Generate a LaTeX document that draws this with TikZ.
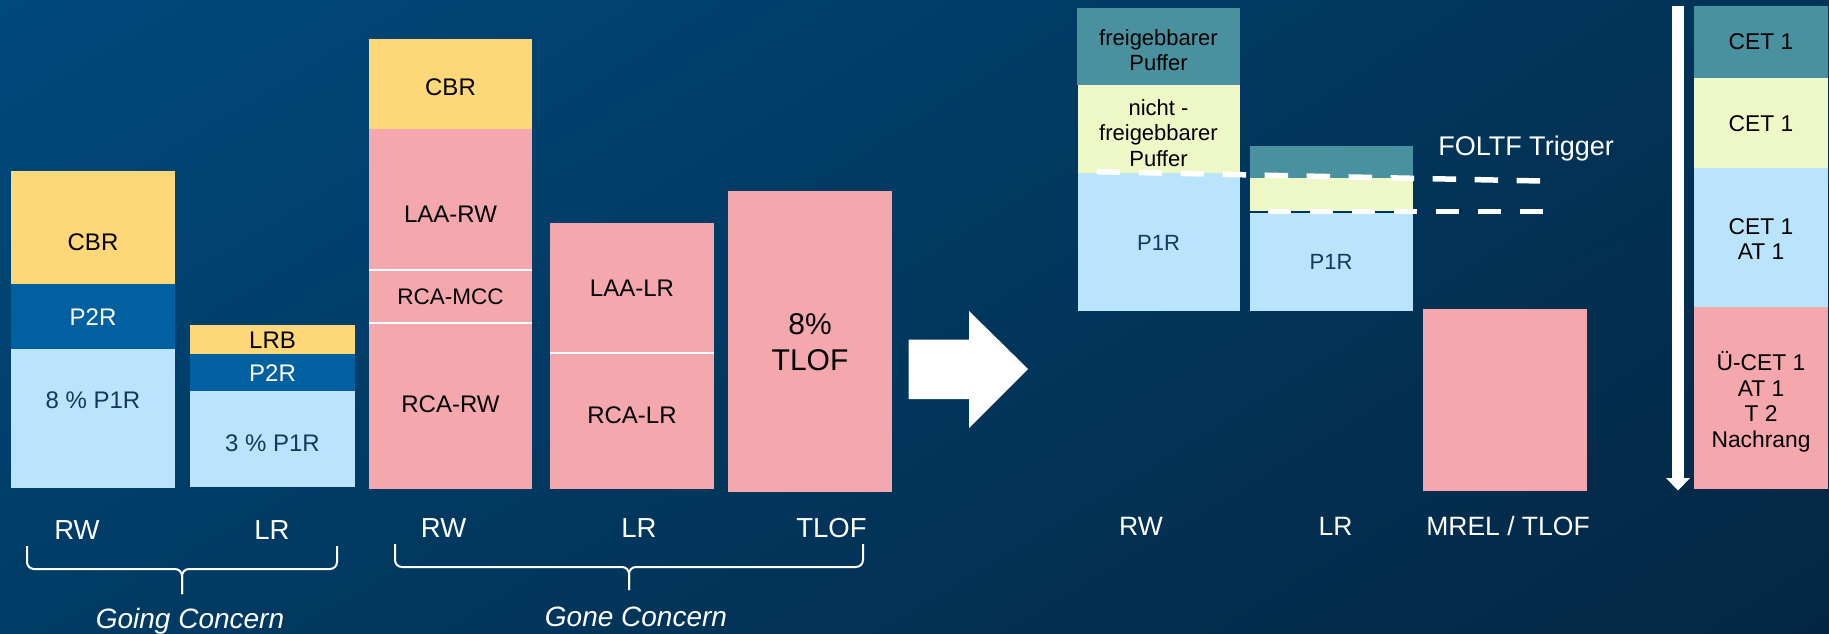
\documentclass[tikz,border=0pt]{standalone}
\usepackage{fontspec}
\setmainfont{Liberation Sans}
\usetikzlibrary{shadings}
\definecolor{bgA}{RGB}{0,74,124}
\definecolor{bgB}{RGB}{2,50,86}
\definecolor{bgC}{RGB}{1,60,102}
\definecolor{bgD}{RGB}{4,38,66}
\definecolor{cbr}{RGB}{253,215,120}
\definecolor{ptwo}{RGB}{0,96,160}
\definecolor{pone}{RGB}{185,228,252}
\definecolor{gpink}{RGB}{244,167,173}
\definecolor{tealb}{RGB}{74,145,160}
\definecolor{lyel}{RGB}{238,248,198}
\definecolor{ponetext}{RGB}{23,55,94}
\newcommand\szBox{\fontsize{24}{28}\selectfont}
\newcommand\szBig{\fontsize{30}{36.5}\selectfont}
\newcommand\szLab{\fontsize{27.5}{32}\selectfont}
\newcommand\szLabR{\fontsize{26.5}{30}\selectfont}
\newcommand\szSm{\fontsize{22}{25.5}\selectfont}
\newcommand\szCol{\fontsize{22.8}{25.5}\selectfont}
\tikzset{
  txt/.style={inner sep=0pt, outer sep=0pt, align=center, text depth=0pt},
  boxt/.style={txt, font=\szBox, text=black},
  smt/.style={txt, font=\szSm, text=black},
  colt/.style={txt, font=\szCol, text=black},
  lab/.style={txt, font=\szLab, text=white},
  labr/.style={txt, font=\szLabR, text=white},
  brace/.style={draw=white, line width=2pt, rounded corners=7pt},
  sep/.style={draw=white, line width=2pt},
  trig/.style={draw=white, line width=5.5pt, dash pattern=on 23.5pt off 18.5pt}
}
\begin{document}
\begin{tikzpicture}[x=1pt,y=-1pt]
\useasboundingbox (0,0) rectangle (1829,634);
\shade[upper left=bgA, upper right=bgB, lower left=bgC, lower right=bgD] (0,0) rectangle (1829,634);
% ---- Going concern RW
\fill[cbr] (10.9,171) rectangle (175,284);
\fill[ptwo] (10.9,284) rectangle (175,348.6);
\fill[pone] (10.9,348.6) rectangle (175,487.7);
\node[boxt] (cbrA) at (93,242) {CBR};
\node[boxt, text=white] (p2rA) at (93,317) {P2R};
\node[boxt, text=ponetext] (p1rA) at (93,400) {8 \% P1R};
% ---- Going concern LR
\fill[cbr] (190,325) rectangle (355,354);
\fill[ptwo] (190,354) rectangle (355,391.4);
\fill[pone] (190,391.4) rectangle (355,486.5);
\node[boxt] (lrbB) at (272.5,340) {LRB};
\node[boxt, text=white] (p2rB) at (272.5,373) {P2R};
\node[boxt, text=ponetext] (p1rB) at (272.5,443) {3 \% P1R};
% ---- Gone concern RW
\fill[cbr] (369,38.8) rectangle (532,129.4);
\fill[gpink] (369,129.4) rectangle (532,488.5);
\draw[sep] (369,269.7) -- (532,269.7);
\draw[sep] (369,323) -- (532,323);
\node[boxt] (cbrC) at (450.5,87) {CBR};
\node[boxt] (laaC) at (450.5,214) {LAA-RW};
\node[boxt, font=\fontsize{22.5}{26}\selectfont] (mccC) at (450.5,297) {RCA-MCC};
\node[boxt] (rcaC) at (450.5,404) {RCA-RW};
% ---- Gone concern LR
\fill[gpink] (550,223) rectangle (714,489);
\draw[sep] (550,352.6) -- (714,352.6);
\node[boxt] (laaD) at (632,288) {LAA-LR};
\node[boxt] (rcaD) at (632,415) {RCA-LR};
% ---- TLOF
\fill[gpink] (728,191) rectangle (892,491.5);
\node[txt, font=\szBig, text=black] (tlofE) at (810,342) {8\%\\TLOF};
% ---- big arrow
\fill[white] (908.6,339.7) -- (969,339.7) -- (969,311) -- (1028,369) -- (969,428) -- (969,399) -- (908.6,399) -- cycle;
% ---- right RW
\fill[tealb] (1077,8) rectangle (1240,85);
\fill[lyel] (1078,85) rectangle (1240,173);
\fill[pone] (1078,173) rectangle (1240,310.5);
\node[smt] (freiF) at (1158.5,50) {freigebbarer\\Puffer};
\node[smt] (nichtF) at (1158.5,133) {nicht -\\freigebbarer\\Puffer};
\node[smt, text=ponetext] (p1rF) at (1158.5,243) {P1R};
% ---- right LR
\fill[tealb] (1249.5,146.4) rectangle (1413,178);
\fill[lyel] (1249.5,178) rectangle (1413,210.8);
\fill[pone] (1249.5,212.5) rectangle (1413,310.5);
\node[smt, text=ponetext] (p1rG) at (1331,262) {P1R};
% ---- trigger lines
\coordinate (t1a) at (1096.7,171.7);
\coordinate (t1b) at (1541,181);
\coordinate (t2a) at (1267.7,211.7);
\coordinate (t2b) at (1543.2,211.7);
\draw[trig] (t1a) -- (t1b);
\draw[trig] (t2a) -- (t2b);
\node[txt, font=\fontsize{27}{30}\selectfont, text=white] (foltf) at (1526,146) {FOLTF Trigger};
% ---- MREL box
\fill[gpink] (1423,309.3) rectangle (1587,490.5);
% ---- down arrow
\coordinate (dtop) at (1678,5.7);
\coordinate (dmid) at (1678,479);
\coordinate (dtip) at (1678,490.5);
\draw[white, line width=12pt] (dtop) -- (dmid);
\fill[white] (1666,478) -- (1690,478) -- (dtip) -- cycle;
% ---- right column
\fill[tealb] (1694.4,5.7) rectangle (1828,77.6);
\fill[lyel] (1694.4,77.6) rectangle (1828,167.8);
\fill[pone] (1694.4,167.8) rectangle (1828,307.3);
\fill[gpink] (1694.4,307.3) rectangle (1828,488.5);
\node[colt] (cetA) at (1761,41.6) {CET 1};
\node[colt] (cetB) at (1761,123.3) {CET 1};
\node[colt] (cetC) at (1761,239) {CET 1\\AT 1};
\node[colt] (cetD) at (1761,399.5) {Ü-CET 1\\AT 1\\T 2\\Nachrang};
% ---- labels
\node[lab] (lRW1) at (77,530) {RW};
\node[lab] (lLR1) at (272,530) {LR};
\node[lab] (lRW2) at (443.6,528) {RW};
\node[lab] (lLR2) at (639,528) {LR};
\node[lab] (lTL2) at (831.5,528) {TLOF};
\node[labr] (lRW3) at (1141,526) {RW};
\node[labr] (lLR3) at (1335.5,526) {LR};
\node[labr] (lMR3) at (1508,526) {MREL / TLOF};
% ---- braces
\draw[brace] (27,546) -- (27,569) -- (182,569) -- (182,594);
\draw[brace] (337,546) -- (337,569) -- (182,569) -- (182,594);
\draw[brace] (395,544) -- (395,567) -- (629,567) -- (629,590);
\draw[brace] (863,544) -- (863,567) -- (629,567) -- (629,590);
\node[txt, font=\fontsize{28}{32}\selectfont\itshape, text=white] (going) at (190,618) {Going Concern};
\node[txt, font=\fontsize{28}{32}\selectfont\itshape, text=white] (gone) at (636,617) {Gone Concern};
\end{tikzpicture}
\end{document}
